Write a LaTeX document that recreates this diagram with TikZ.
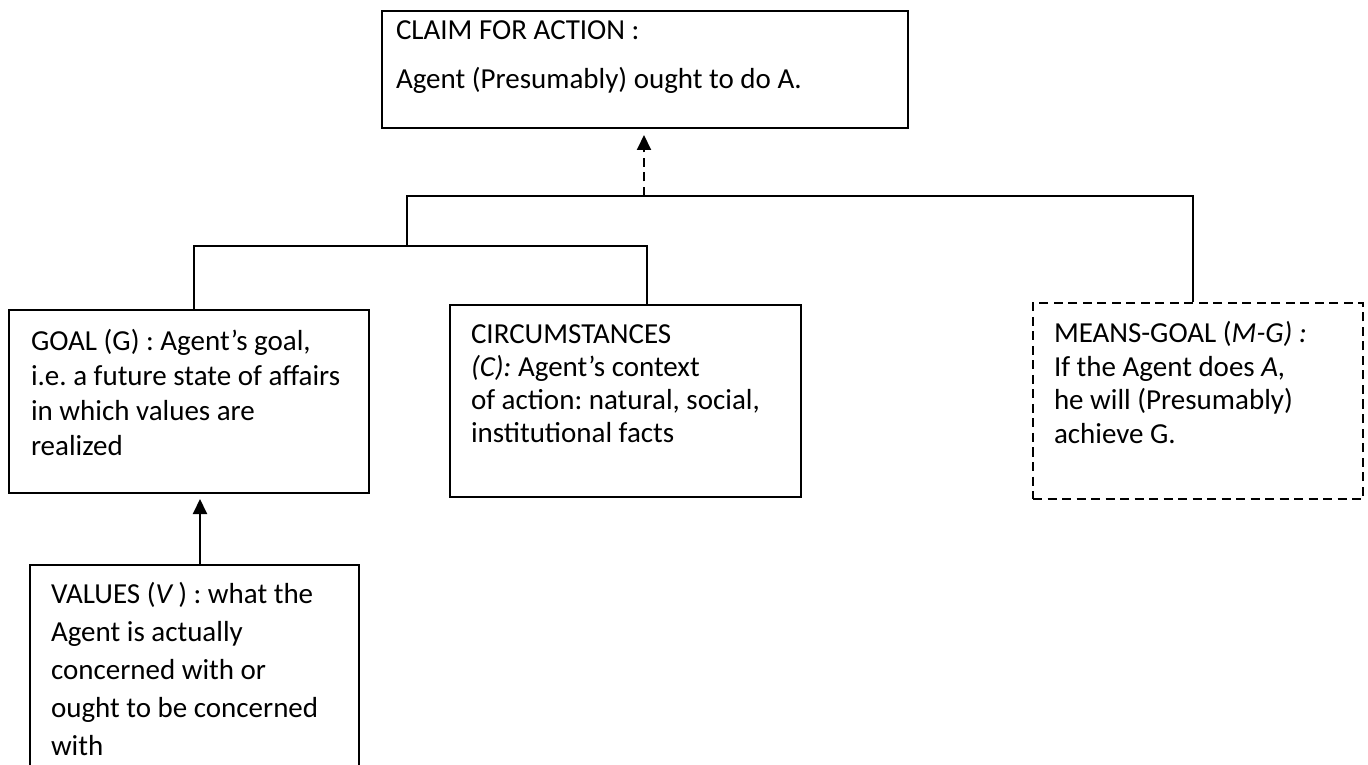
\documentclass[tikz,border=0pt]{standalone}
\usepackage{fontspec}
\setmainfont{Carlito}
\usetikzlibrary{arrows.meta}

% box text: width, height, first baseline, leading, text
\newcommand{\argtext}[5]{\parbox[t][#2][t]{#1}{\fontsize{11.6pt}{#4}\selectfont\frenchspacing\raggedright\rule{0pt}{#3}#5}}

\tikzset{
    argbox/.style={draw, line width=0.8pt, inner xsep=#1, inner ysep=0pt, anchor=north west},
    argbox/.default=8.4pt,
    link/.style={line width=0.8pt},
    infer/.style={line width=0.8pt, -{Triangle[length=6pt,width=5.6pt]}},
    maybe/.style={dash pattern=on 3.6pt off 2.2pt}
}

\begin{document}
\begin{tikzpicture}[x=0.4pt, y=-0.4pt]
    \useasboundingbox (0,0) rectangle (1368,765);

    \node (claim) [argbox=5.6pt] at (381,10) {\argtext{199.2pt}{46.8pt}{11.6pt}{19.6pt}{CLAIM FOR ACTION :\\ Agent (Presumably) ought to do A.}};

    \node (goal) [argbox=8.8pt] at (8,309) {\argtext{126.4pt}{73.2pt}{16.4pt}{14pt}{GOAL (G) : Agent’s goal,\\ i.e. a future state of affairs\\ in which values are\\ realized}};
    \node (circ) [argbox] at (449,304) {\argtext{123.6pt}{76.8pt}{15.6pt}{13.2pt}{CIRCUMSTANCES\\ \textit{(C):} Agent’s context\\ of action: natural, social,\\ institutional facts}};
    \node (means) [argbox, maybe] at (1032,302) {\argtext{115.2pt}{78.4pt}{16pt}{13.4pt}{MEANS-GOAL (\textit{M-G) :}\\ If the Agent does \textit{A,}\\ he will (Presumably)\\ achieve G.}};

    \node (values) [argbox] at (29,564) {\argtext{114.8pt}{92pt}{15.2pt}{15.2pt}{VALUES (\textit{V}\,) : what the\\ Agent is actually\\ concerned with or\\ ought to be concerned\\ with}};

    % premises joined to the claim
    \coordinate (lowbar) at (407,246);
    \coordinate (highbar) at (644,196);
    \draw[link] ([xshift=74.4pt]goal.north west) |- (lowbar) -| ([xshift=79.2pt]circ.north west);
    \draw[link] (lowbar) |- (highbar) -| ([xshift=64.4pt]means.north west);
    \draw[infer, maybe, shorten >=2.4pt] (highbar) -- (highbar |- claim.south);

    \draw[infer, shorten >=2pt] ([xshift=68.4pt]values.north west) coordinate (vtop) -- (vtop |- goal.south);
\end{tikzpicture}
\end{document}
